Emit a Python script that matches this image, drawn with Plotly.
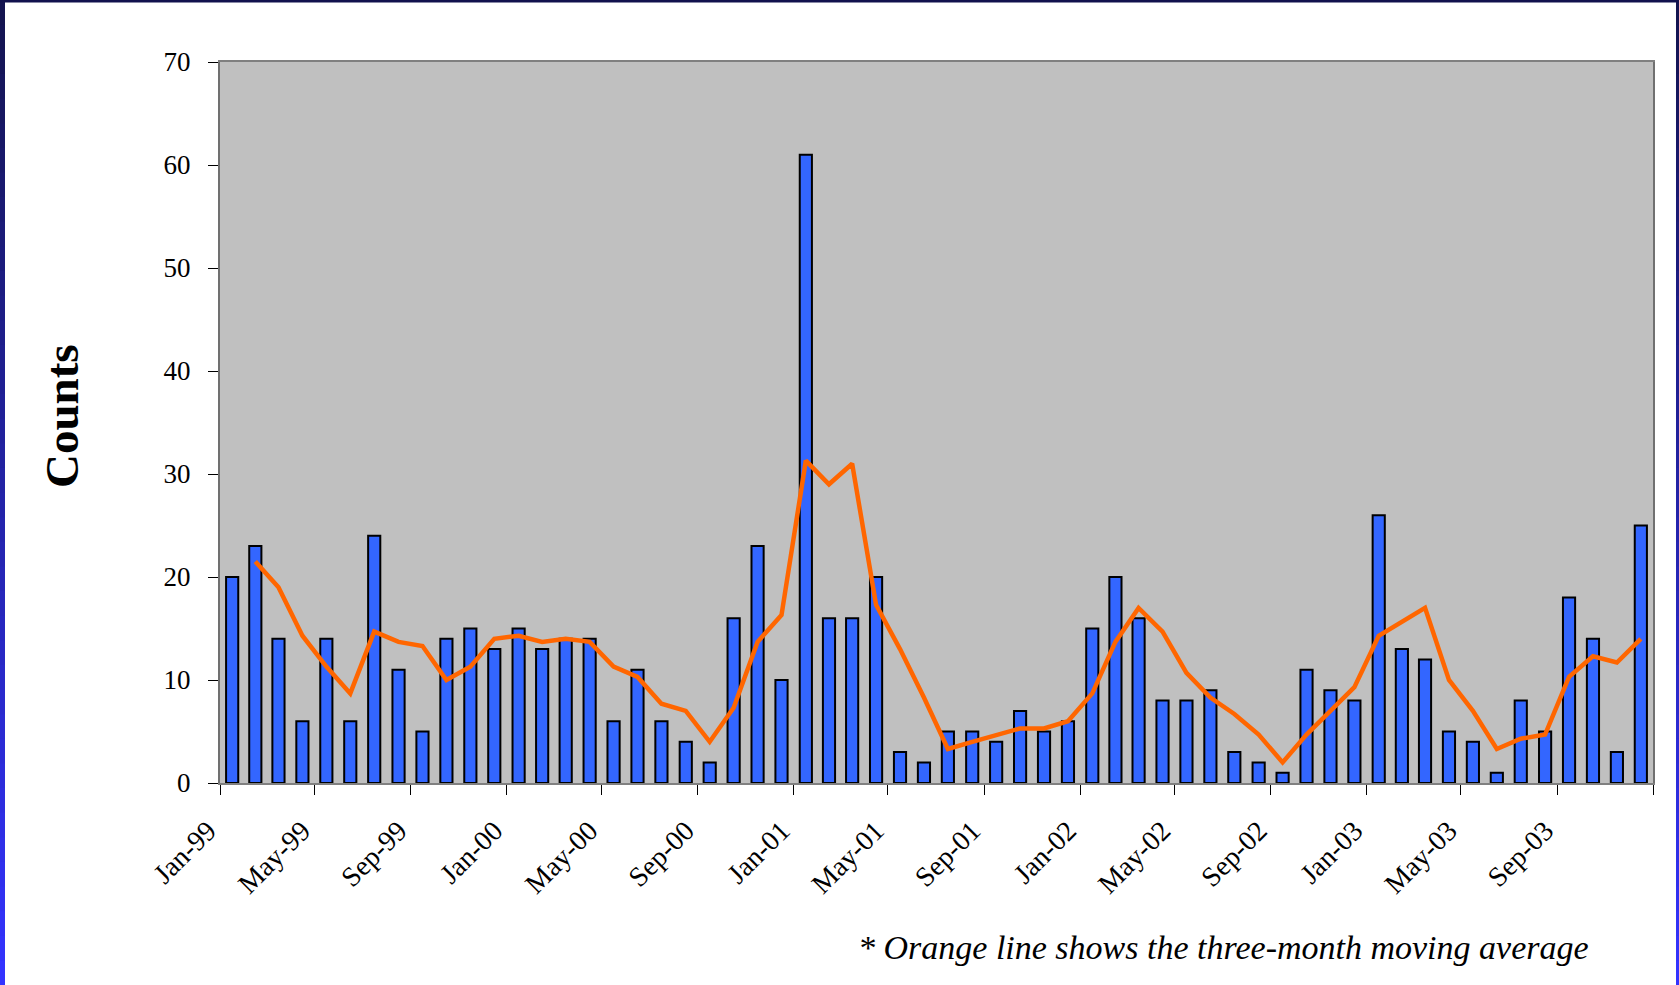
import plotly.graph_objects as go
import pandas as pd

# Monthly counts, Jan 1999 - Dec 2003
months = pd.date_range("1999-01-01", periods=60, freq="MS")
counts = [
    20, 23, 14, 6, 14, 6, 24, 11, 5, 14, 15, 13,   # 1999
    15, 13, 14, 14, 6, 11, 6, 4, 2, 16, 23, 10,    # 2000
    61, 16, 16, 20, 3, 2, 5, 5, 4, 7, 5, 6,        # 2001
    15, 20, 16, 8, 8, 9, 3, 2, 1, 11, 9, 8,        # 2002
    26, 13, 12, 5, 4, 1, 8, 5, 18, 14, 3, 25,      # 2003
]

# Three-month moving average (starts in Feb 1999)
ma_months = months[1:]
moving_avg = [
    21.5, 19.0, 14.3, 11.3, 8.7, 14.7, 13.7, 13.3, 10.0, 11.3, 14.0,
    14.3, 13.7, 14.0, 13.7, 11.3, 10.3, 7.7, 7.0, 4.0, 7.3, 13.7, 16.3,
    31.3, 29.0, 31.0, 17.3, 13.0, 8.3, 3.3, 4.0, 4.7, 5.3, 5.3, 6.0,
    8.7, 13.7, 17.0, 14.7, 10.7, 8.3, 6.7, 4.7, 2.0, 4.7, 7.0, 9.3,
    14.3, 15.7, 17.0, 10.0, 7.0, 3.3, 4.3, 4.7, 10.3, 12.3, 11.7, 14.0,
]

tick_dates = pd.date_range("1999-01-01", "2004-01-01", freq="4MS")
tick_labels = ["Jan-99", "May-99", "Sep-99", "Jan-00", "May-00", "Sep-00",
               "Jan-01", "May-01", "Sep-01", "Jan-02", "May-02", "Sep-02",
               "Jan-03", "May-03", "Sep-03", ""]

W, H = 1679, 985
ML, MR, MT, MB = 220, 26, 62, 202
PW, PH = W - ML - MR, H - MT - MB


def px_x(px):
    return (px - ML) / PW


def px_y(py):
    return (H - MB - py) / PH


SERIF = "Liberation Serif, Times New Roman, serif"
DAY_MS = 86400000

fig = go.Figure()
fig.add_trace(go.Bar(
    x=months, y=counts,
    xperiod="M1", xperiodalignment="middle",
    width=15.5 * DAY_MS,
    marker=dict(color="#3366FF", line=dict(color="#000000", width=2)),
    showlegend=False,
))
fig.add_trace(go.Scatter(
    x=ma_months, y=moving_avg,
    xperiod="M1", xperiodalignment="middle",
    mode="lines",
    line=dict(color="#FF6600", width=4.5),
    showlegend=False,
))

# window frame: dark top edge, gradient side strips
shapes = []
steps = 40
for i in range(steps):
    t = i / (steps - 1)
    r = int(0x14 + (0x33 - 0x14) * t)
    g = int(0x14 + (0x33 - 0x14) * t)
    b = int(0x50 + (0xFF - 0x50) * t)
    col = f"rgb({r},{g},{b})"
    ya = H * i / steps
    yb = min(H, H * (i + 1) / steps + 1)
    shapes.append(dict(type="rect", xref="paper", yref="paper",
                       x0=px_x(0), x1=px_x(5), y0=px_y(yb), y1=px_y(ya),
                       fillcolor=col, line=dict(width=0), layer="above"))
    shapes.append(dict(type="rect", xref="paper", yref="paper",
                       x0=px_x(1676), x1=px_x(W), y0=px_y(yb), y1=px_y(ya),
                       fillcolor=col, line=dict(width=0), layer="above"))
shapes.append(dict(type="rect", xref="paper", yref="paper",
                   x0=px_x(0), x1=px_x(W), y0=px_y(2.5), y1=px_y(0),
                   fillcolor="#12124e", line=dict(width=0), layer="above"))

fig.update_layout(
    width=W, height=H,
    margin=dict(l=ML, r=MR, t=MT, b=MB, pad=0),
    paper_bgcolor="#FFFFFF",
    plot_bgcolor="#C0C0C0",
    font=dict(family=SERIF, color="#000000", size=27),
    shapes=shapes,
    xaxis=dict(
        type="date",
        range=["1999-01-01", "2004-01-01"],
        tickvals=tick_dates, ticktext=tick_labels,
        tickangle=-45,
        ticks="outside", ticklen=10, tickwidth=1, tickcolor="#000000",
        showgrid=False, zeroline=False,
        showline=True, linecolor="#808080", linewidth=2, mirror=True,
        tickfont=dict(family=SERIF, size=28, color="#000000"),
        ticklabelstandoff=8, ticklabelshift=-12,
    ),
    yaxis=dict(
        range=[0, 70], tick0=0, dtick=10,
        ticks="outside", ticklen=10, tickwidth=1, tickcolor="#000000",
        showgrid=False, zeroline=False,
        showline=True, linecolor="#707070", linewidth=2, mirror=True,
        tickfont=dict(family=SERIF, size=27, color="#000000"),
        ticklabelstandoff=12,
    ),
    annotations=[
        dict(text="<b>Counts</b>", textangle=-90,
             xref="paper", yref="paper", x=px_x(62), y=px_y(416),
             xanchor="center", yanchor="middle", showarrow=False,
             font=dict(family=SERIF, size=47, color="#000000")),
        dict(text="<i>* Orange line shows the three-month moving average</i>",
             xref="paper", yref="paper", x=px_x(856), y=px_y(948),
             xanchor="left", yanchor="middle", showarrow=False,
             font=dict(family=SERIF, size=34, color="#000000")),
    ],
)

fig.write_html("out.html")
